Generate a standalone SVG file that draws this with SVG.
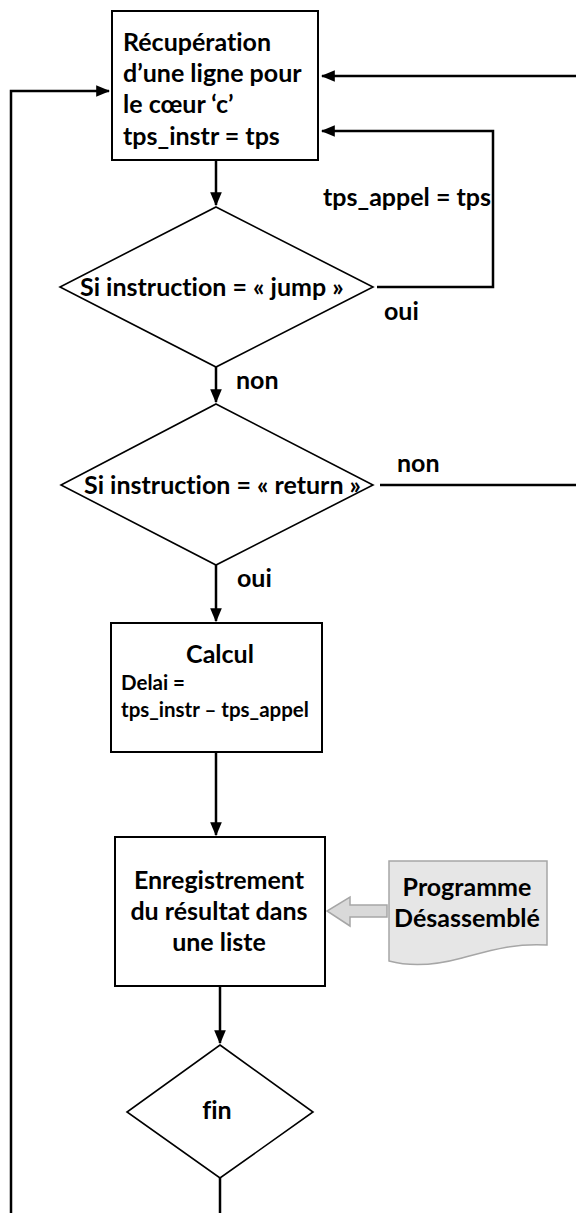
<svg xmlns="http://www.w3.org/2000/svg" width="576" height="1213" viewBox="0 0 576 1213">
  <style>
    text { font-family: Lato, "Open Sans", "Liberation Sans", sans-serif; font-weight: bold; fill: #000; font-variant-ligatures: none; }
    .t { font-size: 25px; }
    .s { font-size: 20.5px; }
    .box { fill: #fff; stroke: #000; stroke-width: 2; }
    .dia { fill: #fff; stroke: #000; stroke-width: 1.6; }
    .wire { fill: none; stroke: #000; stroke-width: 2.5; }
    .mid { text-anchor: middle; }
  </style>
  <defs>
    <marker id="arrow" markerUnits="userSpaceOnUse" markerWidth="14" markerHeight="14" viewBox="0 0 12 12" refX="11" refY="6" orient="auto">
      <path d="M0,1 L12,6 L0,11 Z" fill="#000"/>
    </marker>
  </defs>

  <g id="connectors">
    <path class="wire" d="M216,160 V205" marker-end="url(#arrow)"/>
    <path class="wire" d="M377,287 H493 V131 H322" marker-end="url(#arrow)"/>
    <path class="wire" d="M576,76 H322" marker-end="url(#arrow)"/>
    <path class="wire" d="M11,1213 V91 H109" marker-end="url(#arrow)"/>
    <path class="wire" d="M216,367 V402" marker-end="url(#arrow)"/>
    <path class="wire" d="M380,485 H576"/>
    <path class="wire" d="M216,565 V621" marker-end="url(#arrow)"/>
    <path class="wire" d="M216,752 V835" marker-end="url(#arrow)"/>
    <path class="wire" d="M220,986 V1043" marker-end="url(#arrow)"/>
    <path class="wire" d="M220,1178 V1213"/>
    <!-- hollow block arrow from the document into the list step -->
    <path d="M387,905 H350 V897 L327,911 L350,926 V917 H387 Z" fill="#d9d9d9" stroke="#a6a6a6" stroke-width="1.5"/>
    <text class="t" x="323" y="206">tps_appel = tps</text>
    <text class="t" x="384" y="320">oui</text>
    <text class="t" x="236" y="389">non</text>
    <text class="t" x="397" y="472">non</text>
    <text class="t" x="237" y="587">oui</text>
  </g>

  <g id="recuperation">
    <rect class="box" x="112" y="11" width="206" height="149"/>
    <text class="t" x="123" y="51">Récupération</text>
    <text class="t" x="123" y="82">d’une ligne pour</text>
    <text class="t" x="123" y="113">le cœur ‘c’</text>
    <text class="t" x="123" y="145">tps_instr = tps</text>
  </g>

  <g id="test-jump">
    <polygon class="dia" points="216,207 373,287 216,367 60,287"/>
    <text class="t" x="80" y="296">Si instruction = « jump »</text>
  </g>

  <g id="test-return">
    <polygon class="dia" points="216,404 373,485 216,565 61,485"/>
    <text class="t" x="84" y="494">Si instruction = « return »</text>
  </g>

  <g id="calcul">
    <rect class="box" x="111" y="623" width="211" height="129"/>
    <text class="t mid" x="220" y="663">Calcul</text>
    <text class="s" x="121" y="690">Delai =</text>
    <text class="s" x="121" y="717">tps_instr – tps_appel</text>
  </g>

  <g id="enregistrement">
    <rect class="box" x="115" y="837" width="210" height="149"/>
    <text class="t mid" x="219" y="889">Enregistrement</text>
    <text class="t mid" x="219" y="920">du résultat dans</text>
    <text class="t mid" x="219" y="951">une liste</text>
  </g>

  <g id="programme">
    <path d="M389,861 H547 V945 C515,943 492,950 462,958 C440,964 415,968 389,961 Z" fill="#e6e6e6" stroke="#a6a6a6" stroke-width="1.5"/>
    <text class="t mid" x="467" y="896">Programme</text>
    <text class="t mid" x="467" y="927">Désassemblé</text>
  </g>

  <g id="fin">
    <polygon class="dia" points="220,1045 313,1112 220,1178 127,1112"/>
    <text class="t mid" x="217" y="1119">fin</text>
  </g>
</svg>
